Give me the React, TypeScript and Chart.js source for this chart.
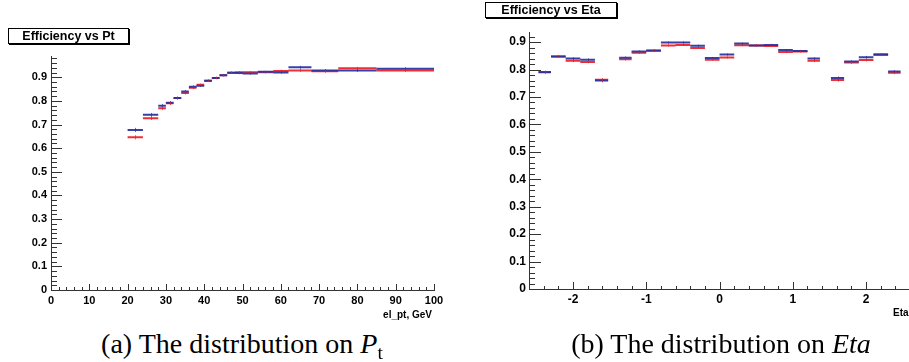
import React, { useEffect, useRef } from 'react';
import { Chart, registerables } from 'chart.js';

Chart.register(...registerables);

// ---------- Data: Efficiency vs Pt ----------
const PT_EDGES = [20, 24, 28, 30, 32, 34, 36, 38, 40, 42, 44, 46, 48, 50, 54, 58, 62, 68, 75, 85, 100];
const PT_BLUE = [0.677, 0.741, 0.780, 0.792, 0.812, 0.840, 0.860, 0.864, 0.885, 0.897, 0.909, 0.919, 0.918, 0.916, 0.923, 0.920, 0.942, 0.929, 0.929, 0.936];
const PT_RED = [0.646, 0.727, 0.769, 0.790, 0.812, 0.833, 0.856, 0.868, 0.885, 0.897, 0.909, 0.919, 0.921, 0.921, 0.921, 0.927, 0.929, 0.925, 0.938, 0.929];
const PT_BLUE_ERR = [0.009, 0.008, 0.007, 0.007, 0.006, 0.006, 0.006, 0.005, 0.005, 0.005, 0.005, 0.005, 0.005, 0.005, 0.005, 0.005, 0.006, 0.006, 0.006, 0.007];
const PT_RED_ERR = [0.009, 0.008, 0.007, 0.007, 0.006, 0.006, 0.006, 0.005, 0.005, 0.005, 0.005, 0.005, 0.005, 0.005, 0.005, 0.005, 0.006, 0.006, 0.006, 0.007];
const PT_TICKS = [0, 10, 20, 30, 40, 50, 60, 70, 80, 90, 100];
const PT_Y_TICKS = [0, 0.1, 0.2, 0.3, 0.4, 0.5, 0.6, 0.7, 0.8, 0.9];

// ---------- Data: Efficiency vs Eta ----------
const ETA_LO = [-2.47, -2.3, -2.1, -1.9, -1.7, -1.37, -1.2, -1.0, -0.8, -0.6, -0.4, -0.2, 0, 0.2, 0.4, 0.6, 0.8, 1.0, 1.2, 1.52, 1.7, 1.9, 2.1, 2.3];
const ETA_HI = [-2.3, -2.1, -1.9, -1.7, -1.52, -1.2, -1.0, -0.8, -0.6, -0.4, -0.2, 0, 0.2, 0.4, 0.6, 0.8, 1.0, 1.2, 1.37, 1.7, 1.9, 2.1, 2.3, 2.47];
const ETA_BLUE = [0.790, 0.848, 0.840, 0.836, 0.760, 0.843, 0.866, 0.870, 0.899, 0.899, 0.887, 0.842, 0.855, 0.895, 0.888, 0.890, 0.871, 0.868, 0.840, 0.769, 0.829, 0.845, 0.856, 0.793];
const ETA_RED = [0.791, 0.848, 0.832, 0.828, 0.763, 0.838, 0.861, 0.869, 0.888, 0.890, 0.879, 0.836, 0.844, 0.889, 0.888, 0.886, 0.864, 0.866, 0.832, 0.762, 0.826, 0.835, 0.853, 0.788];
const ETA_BLUE_ERR = [0.005, 0.004, 0.005, 0.005, 0.006, 0.005, 0.004, 0.004, 0.004, 0.004, 0.004, 0.004, 0.004, 0.004, 0.004, 0.004, 0.004, 0.004, 0.005, 0.006, 0.005, 0.005, 0.004, 0.005];
const ETA_RED_ERR = [0.005, 0.004, 0.005, 0.005, 0.006, 0.005, 0.004, 0.004, 0.004, 0.004, 0.004, 0.004, 0.004, 0.004, 0.004, 0.004, 0.004, 0.004, 0.005, 0.006, 0.005, 0.005, 0.004, 0.005];
const ETA_TICKS = [-2, -1, 0, 1, 2];
const ETA_Y_TICKS = [0, 0.1, 0.2, 0.3, 0.4, 0.5, 0.6, 0.7, 0.8, 0.9];

const BLUE = 'rgba(38,48,158,0.92)';
const RED = 'rgba(238,28,36,0.92)';
const AXIS = '#333';
const TICK_FONT = 'Liberation Sans, Arial, Helvetica, sans-serif';

function segData(lo: number[], hi: number[], vals: number[]) {
  const out: any[] = [];
  vals.forEach((v, i) => {
    out.push({ x: lo[i], y: v });
    out.push({ x: hi[i], y: v });
    out.push({ x: hi[i], y: null });
  });
  return out;
}

const errPlugin = {
  id: 'errBars',
  afterDatasetsDraw(chart: any) {
    const { ctx } = chart;
    const xs = chart.scales.x;
    const ys = chart.scales.y;
    chart.data.datasets.forEach((ds: any) => {
      if (!ds.errBars) return;
      const { lo, hi, vals, errs } = ds.errBars;
      ctx.save();
      ctx.strokeStyle = ds.borderColor;
      ctx.globalAlpha = 0.75;
      ctx.lineWidth = 1;
      ctx.beginPath();
      vals.forEach((v: number, i: number) => {
        const px = Math.round(xs.getPixelForValue((lo[i] + hi[i]) / 2)) + 0.5;
        ctx.moveTo(px, ys.getPixelForValue(v - errs[i]));
        ctx.lineTo(px, ys.getPixelForValue(v + errs[i]));
      });
      ctx.stroke();
      ctx.restore();
    });
  },
};

function tickPlugin(o: any) {
  return {
    id: 'rootTicks',
    afterDraw(chart: any) {
      const { ctx, chartArea: a } = chart;
      const xs = chart.scales.x;
      const ys = chart.scales.y;
      ctx.save();
      ctx.strokeStyle = AXIS;
      ctx.lineWidth = 1;
      ctx.beginPath();
      for (let i = Math.ceil(xs.min / o.xMinor - 1e-6); i * o.xMinor <= xs.max + 1e-6; i++) {
        const v = i * o.xMinor;
        const r = v / o.xMajor;
        const major = Math.abs(r - Math.round(r)) < 1e-6;
        const px = Math.round(xs.getPixelForValue(v)) + 0.5;
        const len = major ? o.xMajorLen : o.xMinorLen;
        ctx.moveTo(px, a.bottom);
        ctx.lineTo(px, a.bottom - len);
      }
      for (let i = Math.ceil(ys.min / o.yMinor - 1e-6); i * o.yMinor <= ys.max + 1e-6; i++) {
        const v = i * o.yMinor;
        const r = v / o.yMajor;
        const major = Math.abs(r - Math.round(r)) < 1e-6;
        const py = Math.round(ys.getPixelForValue(v)) + 0.5;
        const len = major ? o.yMajorLen : o.yMinorLen;
        ctx.moveTo(a.left, py);
        ctx.lineTo(a.left + len, py);
      }
      ctx.stroke();
      ctx.restore();
    },
  };
}

function makeConfig(p: any): any {
  return {
    type: 'line',
    data: {
      datasets: [
        {
          label: 'blue',
          data: segData(p.lo, p.hi, p.blue),
          borderColor: BLUE,
          borderWidth: 2,
          pointRadius: 0,
          spanGaps: false,
          errBars: { lo: p.lo, hi: p.hi, vals: p.blue, errs: p.blueErr },
        },
        {
          label: 'red',
          data: segData(p.lo, p.hi, p.red),
          borderColor: RED,
          borderWidth: 2,
          pointRadius: 0,
          spanGaps: false,
          errBars: { lo: p.lo, hi: p.hi, vals: p.red, errs: p.redErr },
        },
      ],
    },
    options: {
      animation: false,
      responsive: false,
      events: [],
      layout: { padding: p.padding },
      plugins: { legend: { display: false }, tooltip: { enabled: false }, title: { display: false } },
      scales: {
        x: {
          type: 'linear',
          min: p.xMin,
          max: p.xMax,
          grid: { display: false, drawTicks: false },
          border: { display: true, color: AXIS, width: 1 },
          afterFit: (s: any) => { s.height = p.xAxisH; },
          afterBuildTicks: (s: any) => { s.ticks = p.xTicks.map((v: number) => ({ value: v })); },
          ticks: {
            autoSkip: false,
            maxRotation: 0,
            padding: p.xPad,
            color: '#000',
            font: { family: TICK_FONT, weight: 'bold', size: p.fontSize },
            callback: (v: number) => String(v),
          },
        },
        y: {
          type: 'linear',
          min: 0,
          max: p.yMax,
          grid: { display: false, drawTicks: false },
          border: { display: true, color: AXIS, width: 1 },
          afterFit: (s: any) => { s.width = p.yAxisW; },
          afterBuildTicks: (s: any) => { s.ticks = p.yTicks.map((v: number) => ({ value: v })); },
          ticks: {
            autoSkip: false,
            padding: p.yPad,
            color: '#000',
            font: { family: TICK_FONT, weight: 'bold', size: p.fontSize },
            callback: (v: number) => (v === 0 ? '0' : v.toFixed(1)),
          },
        },
      },
    },
    plugins: [errPlugin, tickPlugin(p.ticks)],
  };
}

const titleBox = (left: number, top: number, width: number, text: string) => (
  <div
    style={{
      position: 'absolute',
      left,
      top,
      width,
      height: 16,
      boxSizing: 'border-box',
      border: '1px solid #000',
      boxShadow: '1px 1px 0 #000',
      background: '#fff',
      fontFamily: TICK_FONT,
      fontWeight: 'bold',
      fontSize: 12.5,
      lineHeight: '14px',
      textAlign: 'center',
      whiteSpace: 'nowrap',
    }}
  >
    {text}
  </div>
);

const axisTitle = (left: number, top: number, width: number, text: string, align: any) => (
  <div
    style={{
      position: 'absolute',
      left,
      top,
      width,
      fontFamily: TICK_FONT,
      fontWeight: 'bold',
      fontSize: 10,
      lineHeight: '12px',
      textAlign: align,
      whiteSpace: 'nowrap',
    }}
  >
    {text}
  </div>
);

const captionStyle: any = {
  position: 'absolute',
  top: 330,
  width: 420,
  textAlign: 'center',
  fontFamily: 'Liberation Serif, Times New Roman, serif',
  fontSize: 28,
  lineHeight: '28px',
  whiteSpace: 'nowrap',
};

export default function App() {
  const ref1 = useRef<HTMLCanvasElement>(null);
  const ref2 = useRef<HTMLCanvasElement>(null);

  useEffect(() => {
    const c1 = new Chart(
      ref1.current as HTMLCanvasElement,
      makeConfig({
        lo: PT_EDGES.slice(0, -1),
        hi: PT_EDGES.slice(1),
        blue: PT_BLUE,
        red: PT_RED,
        blueErr: PT_BLUE_ERR,
        redErr: PT_RED_ERR,
        xMin: 0,
        xMax: 100,
        yMax: 0.99,
        xTicks: PT_TICKS,
        yTicks: PT_Y_TICKS,
        padding: { left: 0, top: 56, right: 16, bottom: 0 },
        xAxisH: 20,
        yAxisW: 51,
        xPad: 4,
        yPad: 4,
        fontSize: 11,
        ticks: { xMinor: 2, xMajor: 10, xMajorLen: 6, xMinorLen: 3, yMinor: 0.02, yMajor: 0.1, yMajorLen: 11, yMinorLen: 6 },
      })
    );
    const c2 = new Chart(
      ref2.current as HTMLCanvasElement,
      makeConfig({
        lo: ETA_LO,
        hi: ETA_HI,
        blue: ETA_BLUE,
        red: ETA_RED,
        blueErr: ETA_BLUE_ERR,
        redErr: ETA_RED_ERR,
        xMin: -2.6,
        xMax: 2.585,
        yMax: 0.937,
        xTicks: ETA_TICKS,
        yTicks: ETA_Y_TICKS,
        padding: { left: 0, top: 32, right: 0, bottom: 0 },
        xAxisH: 21,
        yAxisW: 49,
        xPad: 3,
        yPad: 3,
        fontSize: 12,
        ticks: { xMinor: 0.2, xMajor: 1, xMajorLen: 7, xMinorLen: 3, yMinor: 0.02, yMajor: 0.1, yMajorLen: 12, yMinorLen: 6 },
      })
    );
    return () => {
      c1.destroy();
      c2.destroy();
    };
  }, []);

  return (
    <div style={{ position: 'absolute', left: 0, top: 0, width: 909, height: 362, overflow: 'hidden', background: '#fff' }}>
      <canvas ref={ref1} width={450} height={310} style={{ position: 'absolute', left: 0, top: 0, width: 450, height: 310 }} />
      <canvas ref={ref2} width={429} height={310} style={{ position: 'absolute', left: 480, top: 0, width: 429, height: 310 }} />
      {titleBox(8, 28, 121, 'Efficiency vs Pt')}
      {titleBox(485, 2, 132, 'Efficiency vs Eta')}
      {axisTitle(332, 309, 100, 'el_pt, GeV', 'right')}
      {axisTitle(893, 307, 30, 'Eta', 'left')}
      <div style={{ ...captionStyle, left: 242 - 210 }}>
        (a) The distribution on <i>P</i>
        <span style={{ fontSize: '0.7em', position: 'relative', top: '0.3em' }}>t</span>
      </div>
      <div style={{ ...captionStyle, left: 721 - 210 }}>
        (b) The distribution on <i>Eta</i>
      </div>
    </div>
  );
}
